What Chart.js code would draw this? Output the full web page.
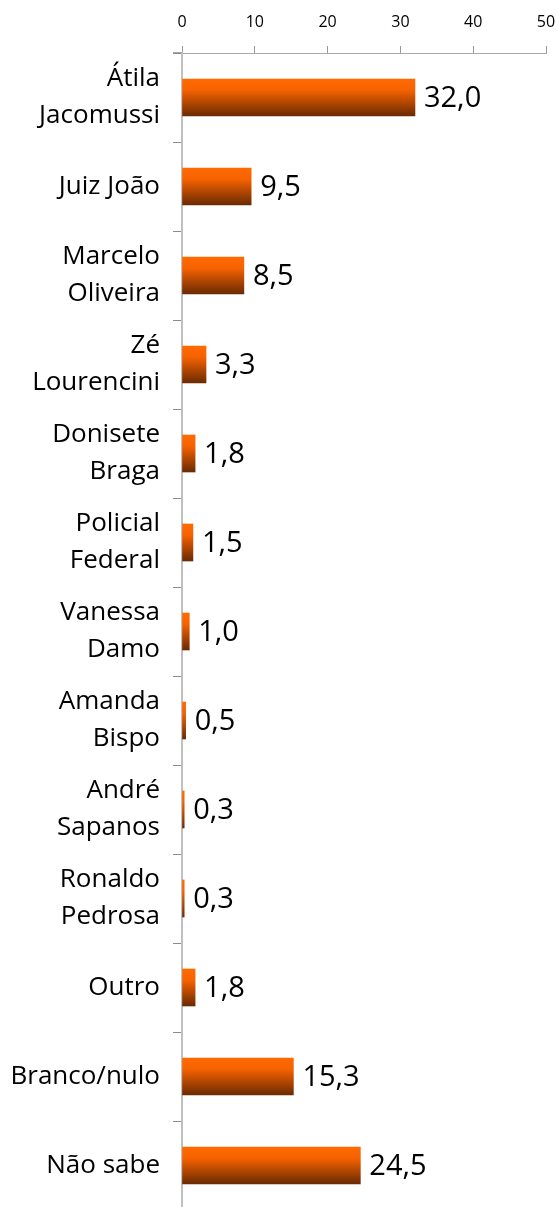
<!DOCTYPE html>
<html>
<head>
<meta charset="utf-8">
<script src="https://cdn.jsdelivr.net/npm/chart.js@4.4.1/dist/chart.umd.min.js"></script>
<style>
  html, body { margin: 0; padding: 0; background: #fff; overflow: hidden; }
  canvas { display: block; }
</style>
</head>
<body>
<canvas id="bars" width="557" height="1210"></canvas>
<script>
var candidates = [
  ['Átila', 'Jacomussi'],
  'Juiz João',
  ['Marcelo', 'Oliveira'],
  ['Zé', 'Lourencini'],
  ['Donisete', 'Braga'],
  ['Policial', 'Federal'],
  ['Vanessa', 'Damo'],
  ['Amanda', 'Bispo'],
  ['André', 'Sapanos'],
  ['Ronaldo', 'Pedrosa'],
  'Outro',
  'Branco/nulo',
  'Não sabe'
];
var votes = [32.0, 9.5, 8.5, 3.3, 1.8, 1.5, 1.0, 0.5, 0.3, 0.3, 1.8, 15.3, 24.5];
var xTicks = [0, 10, 20, 30, 40, 50];

var fontFamily = '"Open Sans", "Noto Sans", sans-serif';
var barH = 37;

// orange on top fading to brown at the bottom, one gradient per bar
function barFill(c) {
  var ys = c.chart.scales.y;
  var mid = ys ? ys.getPixelForValue(c.dataIndex) : NaN;
  if (!isFinite(mid)) return '#f06000';
  var top = mid - barH / 2;
  var g = c.chart.ctx.createLinearGradient(0, top, 0, top + barH);
  g.addColorStop(0, '#ff6a00');
  g.addColorStop(0.3, '#f66200');
  g.addColorStop(1, '#6a2a02');
  return g;
}

// value labels right of each bar
var valueLabels = {
  id: 'valueLabels',
  afterDatasetsDraw: function (chart) {
    var ctx = chart.ctx;
    ctx.save();
    ctx.font = '29px ' + fontFamily;
    ctx.fillStyle = '#000';
    ctx.textAlign = 'left';
    ctx.textBaseline = 'middle';
    chart.getDatasetMeta(0).data.forEach(function (bar, i) {
      ctx.fillText(votes[i].toFixed(1).replace('.', ','), bar.x + 9, bar.y + 1);
    });
    // the top axis line runs a little past the vertical axis
    var a = chart.chartArea;
    ctx.strokeStyle = '#a8a8a8';
    ctx.lineWidth = 1;
    ctx.beginPath();
    ctx.moveTo(a.left - 9, a.top - 0.5);
    ctx.lineTo(a.left, a.top - 0.5);
    ctx.stroke();
    ctx.restore();
  }
};

function noPad(s) {
  s.paddingTop = 0; s.paddingBottom = 0; s.paddingLeft = 0; s.paddingRight = 0;
}

new Chart(document.getElementById('bars').getContext('2d'), {
  type: 'bar',
  data: {
    labels: candidates,
    datasets: [{
      data: votes,
      backgroundColor: barFill,
      barThickness: barH,
      borderWidth: 0
    }]
  },
  options: {
    indexAxis: 'y',
    responsive: false,
    animation: false,
    layout: { padding: { top: 0, right: 11, bottom: 0, left: 0 } },
    plugins: { legend: { display: false }, tooltip: { enabled: false } },
    scales: {
      x: {
        position: 'top',
        min: 0,
        max: 50,
        afterFit: function (s) { s.height = 53; noPad(s); },
        afterBuildTicks: function (s) { s.ticks = xTicks.map(function (v) { return { value: v }; }); },
        grid: { drawOnChartArea: false, drawTicks: true, tickLength: 7, color: '#9a9a9a' },
        border: { color: '#a8a8a8', width: 1 },
        ticks: { color: '#000', padding: 14, font: { family: fontFamily, size: 16 } }
      },
      y: {
        afterFit: function (s) { s.width = 182; noPad(s); },
        grid: { drawOnChartArea: false, drawTicks: true, tickLength: 9, color: '#8a8a8a', offset: true },
        border: { color: '#c0c0c0', width: 2 },
        ticks: {
          color: '#000',
          padding: 13,
          autoSkip: false,
          font: { family: fontFamily, size: 26, lineHeight: 1.42 }
        }
      }
    }
  },
  plugins: [valueLabels]
});
</script>
</body>
</html>
